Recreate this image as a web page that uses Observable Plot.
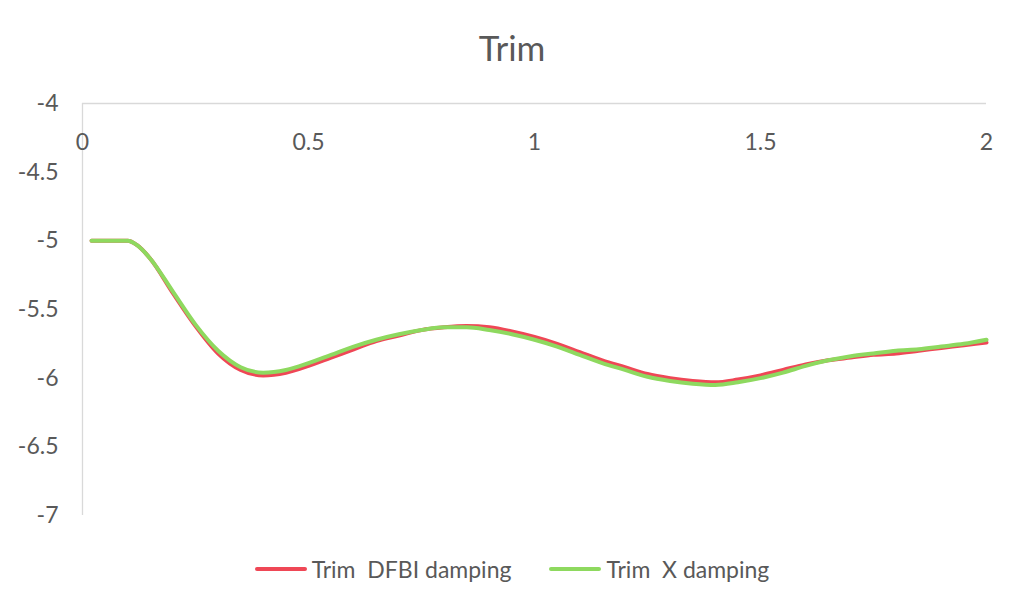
<!DOCTYPE html>
<html>
<head>
<meta charset="utf-8">
<script src="https://cdn.jsdelivr.net/npm/d3@7"></script>
<script src="https://cdn.jsdelivr.net/npm/@observablehq/plot@0.6"></script>
<style>
  html, body { margin: 0; padding: 0; background: #fff; }
  body { width: 1024px; height: 611px; overflow: hidden; font-family: Lato, "Open Sans", sans-serif; color: #595959; }
  #title { height: 80px; line-height: 94px; text-align: center; font-size: 35px; color: #595959; }
  #legend { display: flex; justify-content: center; align-items: center; gap: 38px; margin-top: 15px; font-size: 23px; color: #595959; }
  .item { display: flex; align-items: center; white-space: pre; }
  .swatch { width: 52px; height: 4px; border-radius: 2px; margin-right: 5px; }
</style>
</head>
<body>
<div id="title">Trim</div>
<div id="chart"></div>
<div id="legend"></div>
<script>
const seriesNames = ["Trim  DFBI damping", "Trim  X damping"];
const seriesColors = ["#ef4756", "#8ed95f"];
const xTicks = [0, 0.5, 1, 1.5, 2];
const yTicks = [-7, -6.5, -6, -5.5, -5, -4.5, -4];

const xValues = [0.02, 0.05, 0.10, 0.12, 0.15, 0.20, 0.25, 0.30, 0.35, 0.40, 0.45, 0.50, 0.55, 0.60, 0.65, 0.70, 0.75, 0.80, 0.85, 0.90, 0.95, 1.00, 1.05, 1.10, 1.15, 1.20, 1.25, 1.30, 1.35, 1.40, 1.45, 1.50, 1.55, 1.60, 1.65, 1.70, 1.75, 1.80, 1.85, 1.90, 1.95, 2.00];
const dfbiValues = [-5.0, -5.0, -5.0, -5.03, -5.13, -5.38, -5.62, -5.82, -5.94, -5.98, -5.96, -5.91, -5.85, -5.79, -5.73, -5.69, -5.65, -5.63, -5.62, -5.63, -5.66, -5.70, -5.75, -5.81, -5.87, -5.92, -5.97, -6.00, -6.02, -6.03, -6.01, -5.98, -5.94, -5.90, -5.87, -5.85, -5.83, -5.82, -5.80, -5.78, -5.76, -5.74];
const xDampValues = [-5.0, -5.0, -5.0, -5.03, -5.13, -5.37, -5.61, -5.80, -5.92, -5.96, -5.94, -5.89, -5.83, -5.77, -5.72, -5.68, -5.65, -5.63, -5.63, -5.65, -5.68, -5.72, -5.77, -5.83, -5.89, -5.94, -5.99, -6.02, -6.04, -6.05, -6.03, -6.00, -5.96, -5.91, -5.87, -5.84, -5.82, -5.80, -5.79, -5.77, -5.75, -5.72];

const dfbi = xValues.map((x, i) => ({x, y: dfbiValues[i]}));
const xdamp = xValues.map((x, i) => ({x, y: xDampValues[i]}));

const chart = Plot.plot({
  width: 1024,
  height: 460,
  marginLeft: 82,
  marginRight: 38,
  marginTop: 23,
  marginBottom: 25,
  style: { fontFamily: "Lato, 'Open Sans', sans-serif", fontSize: "23px", color: "#595959", background: "#fff" },
  x: { domain: [0, 2] },
  y: { domain: [-7, -4] },
  marks: [
    Plot.ruleY([-4], { stroke: "#d9d9d9", strokeWidth: 1.3 }),
    Plot.ruleX([0], { stroke: "#d9d9d9", strokeWidth: 1.3 }),
    Plot.axisY({ ticks: yTicks, tickSize: 0, tickPadding: 24, tickFormat: d => String(d), label: null, fontSize: 23, fill: "#595959" }),
    Plot.axisX({ ticks: [], label: null, tickSize: 0 }),
    Plot.text(xTicks, { x: d => d, frameAnchor: "top", dy: 30, text: d => String(d), fontSize: 23, fill: "#595959" }),
    Plot.line(dfbi, { x: "x", y: "y", stroke: seriesColors[0], strokeWidth: 4, curve: "monotone-x" }),
    Plot.line(xdamp, { x: "x", y: "y", stroke: seriesColors[1], strokeWidth: 4, curve: "monotone-x" })
  ]
});
document.getElementById("chart").appendChild(chart);

const legend = document.getElementById("legend");
seriesNames.forEach((name, i) => {
  const item = document.createElement("div");
  item.className = "item";
  const sw = document.createElement("div");
  sw.className = "swatch";
  sw.style.background = seriesColors[i];
  const label = document.createElement("span");
  label.textContent = name;
  item.appendChild(sw);
  item.appendChild(label);
  legend.appendChild(item);
});
</script>
</body>
</html>
